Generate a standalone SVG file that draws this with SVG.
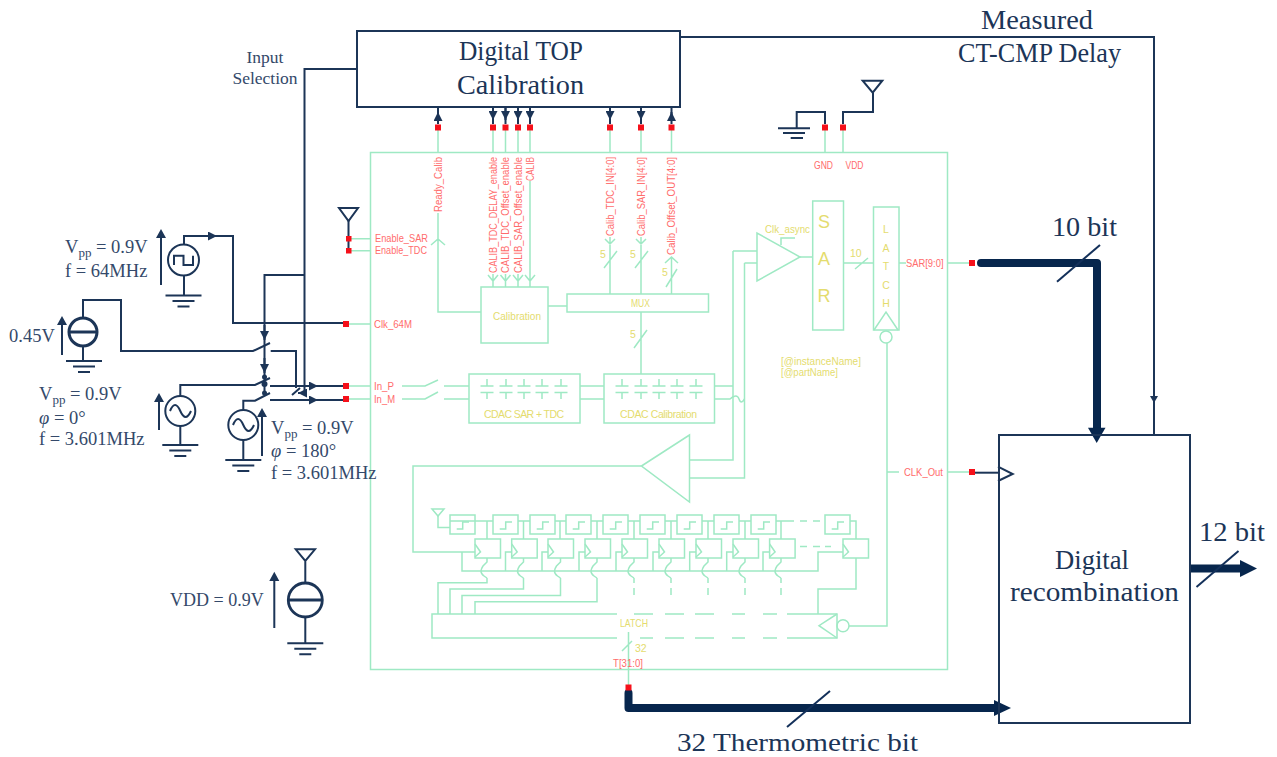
<svg xmlns="http://www.w3.org/2000/svg" width="1277" height="757" viewBox="0 0 1277 757">
<style>
.g{fill:none;stroke:#9fe9c4;stroke-width:1.5}
.n{fill:none;stroke:#1c3557;stroke-width:2}
.s{fill:#f5101a}
.t{fill:none;stroke:#07264d;stroke-width:8;stroke-linecap:round;stroke-linejoin:round}
.l{fill:none;stroke:#13305a;stroke-width:2}
.r{font:10.500px "Liberation Sans",sans-serif;fill:#ff6c6c}
.y{font:10.500px "Liberation Sans",sans-serif;fill:#e4dc6e}
.m{font:18.500px "Liberation Serif",serif;fill:#34496a}
.b{font:26.500px "Liberation Serif",serif;fill:#1c3557}
.h{fill:#1c3557}
.k{fill:#07264d}
</style>
<defs>
<marker id="a" viewBox="0 0 10 10" refX="10" refY="5" markerUnits="userSpaceOnUse" markerWidth="9" markerHeight="9" orient="auto"><path d="M0 0L10 5L0 10Z" fill="#1c3557"/></marker>
<g id="gnd"><path class="n" d="M-18 0H18M-11 5.500H11M-6 11H6"/></g>
<g id="dl"><rect class="g" width="25" height="19"/><path class="g" d="M6.700 14H12.700V7H19"/></g>
<g id="ff"><rect class="g" width="25.500" height="19"/><path class="g" d="M0 5L5.500 13L0 18"/></g>
<g id="cap"><path class="g" d="M0 -7V0M-6.500 0H6.500M-6.500 6.500H6.500M0 6.500V13"/></g>
<path id="w" class="g" d="M0 0V4L-4 8Q-6 11-6 13Q-6 16-3 18L0 20"/>
</defs>

<g id="top-box"><rect x="357" y="31" width="323" height="76" fill="#fff" stroke="#1c3557" stroke-width="2"/>
<text class="b" x="459" y="60" textLength="124" lengthAdjust="spacingAndGlyphs">Digital TOP</text><text class="b" x="457" y="94" textLength="127" lengthAdjust="spacingAndGlyphs">Calibration</text></g>
<g id="chip"><rect class="g" x="370.500" y="152.500" width="577" height="517"/></g>

<g id="connectors">
<path class="g" d="M438 127V152M493 127V152M505.500 127V152M518 127V152M530 127V152M610 127V152M641 127V152M671.500 127V152M825 127V152M843 127V152"/>
<path class="g" d="M438 213V312H481M431 245L438 239L445 245M530 181V287M493 274V287M505.500 274V287M518 274V287M488 275L493 281L498 275M500.500 275L505.500 281L510.500 275M513 275L518 281L523 275M525 275L530 281L535 275"/>
<path class="g" d="M610 237V294M641 237V294M671.500 257V294M605 239L610 244L615 239M636 239L641 244L646 239M665 263L671.500 257L678 263M604 268L617 251M635 268L648 251M666 287L677 269M641 312V374M634 348L647 330M548 306H567"/>
<path class="g" d="M349 238.700H370.500M349 250.700H370.500M346 324H370.500M346 386H370.500M346 399H370.500M947.500 263H972M947.500 472H972M628.500 669.500V687"/>
<path class="g" d="M402 386H425L438 380M444 386H469M402 399H425L438 392M444 399H469M580 386H604M580 399H604M714.500 386H733M714.500 399H730Q737 393 739 399T744.500 399"/>
<path class="g" d="M733 251H757M733 251V460H690M744.500 263H757M744.500 263V478H690M800 257H812.500M843.500 263H873.500M855 269L868 258M781 245V238H795M899 263H906M887 343V626H849M887 472H899"/>
<path class="g" d="M641.500 466H413V552H475M462 552V571H818V552H843M505.500 571V552H511.700M542 571V552H548M579 571V552H585M616 571V552H622M653 571V552H659M689.700 571V552H696M726.700 571V552H733M763 571V552H769.600"/>
<path class="g" d="M475 521H450M438 516V527.500H450M475 521H493M518 521H530M555 521H566M591 521H603M628 521H640M665 521H677M702 521H714M739 521H751M776 521H794M800 521H807M813 521H820M850 521H856V539M487 521V539M523.500 521V539M560 521V539M597 521V539M634 521V539M671 521V539M708 521V539M745 521V539M781 521V539"/>
<path class="g" d="M487 578V582.700H438V614M523.500 578V589H450V614M560.500 578V595.500H462V614M597 578V601.700H475V614M856 558V589H818V614"/>
<path class="g" d="M634 578V583M634 588V595M671 578V583M671 588V595M708 578V583M708 588V595M745 578V583M745 588V595M781 578V583M781 588V595M800 546.500H807M813 546.500H820M825 546.500H831"/>
<path class="g" d="M628.500 632V669.500M622 651L632 641"/>
<path class="n" d="M348.500 220V253M825 124V112H796.700V128M843 124V112H873V93"/>
<path class="n" d="M184 245V236H233V323H346M83 318V300H121V351H253L270 343M270.700 351H296V388M292 395L300 388"/>
<path class="n" d="M180.300 396V385H255L270 378M243.300 410V400.700H255L270 393M270 386H346M270 400H346"/>
<path class="n" d="M357 69H304.500V393M304.500 275H264.500V395"/>
<path class="n" marker-end="url(#a)" d="M205 236H217"/><path class="n" marker-end="url(#a)" d="M300 386H318"/><path class="n" marker-end="url(#a)" d="M300 400H318"/><path class="n" marker-end="url(#a)" d="M264.500 325V340"/><path class="n" marker-end="url(#a)" d="M264.500 358V373"/><path class="n" marker-end="url(#a)" d="M305 393H298"/>
<circle class="h" cx="264.500" cy="377" r="2.500"/><circle class="h" cx="264.500" cy="384" r="3"/><circle class="h" cx="264.500" cy="393" r="2.500"/>
<path class="n" d="M438 107V124M493 107V124M505.500 107V124M518 107V124M530 107V124M610 107V124M641 107V124M671.500 107V124"/>
<path class="n" marker-end="url(#a)" d="M438 120V112"/><path class="n" marker-end="url(#a)" d="M493 108V120"/><path class="n" marker-end="url(#a)" d="M505.500 108V120"/><path class="n" marker-end="url(#a)" d="M518 108V120"/><path class="n" marker-end="url(#a)" d="M530 108V120"/><path class="n" marker-end="url(#a)" d="M610 108V120"/><path class="n" marker-end="url(#a)" d="M641 108V120"/><path class="n" marker-end="url(#a)" d="M671.500 120V112"/>
<path class="n" d="M680 37H1154V435"/><path class="h" d="M1150 396H1158L1154 403Z"/>
<path class="n" d="M975 472.700H999"/>
<path class="t" d="M981 263H1097V430"/><path class="k" d="M1088 427.700H1105.500L1096.700 443Z"/><path class="l" d="M1057 281.700L1100 245"/>
<path class="t" d="M628.500 693V708H996"/><path class="k" d="M994 700L1011 708L994 716Z"/><path class="l" d="M787 727L830 691"/>
<path d="M1190 568.500H1242" fill="none" stroke="#07264d" stroke-width="8"/><path class="k" d="M1240 560L1257 568.500L1240 577Z"/><path class="l" d="M1196.500 587L1238.500 551"/>
<path class="n" d="M161 285V236M62 355V322M159 430V398M262 456V414M274.300 628V578"/>
<path class="h" d="M156 238L161 229L166 238ZM57 325L62 316L67 325ZM154 402L159 393L164 402ZM257 417L262 408L267 417ZM269.300 581L274.300 571.700L279.300 581Z"/>
</g>

<g id="pads"><rect class="s" x="435" y="124.500" width="6" height="6"/><rect class="s" x="490" y="124.500" width="6" height="6"/><rect class="s" x="502.500" y="124.500" width="6" height="6"/><rect class="s" x="515" y="124.500" width="6" height="6"/><rect class="s" x="527" y="124.500" width="6" height="6"/><rect class="s" x="607" y="124.500" width="6" height="6"/><rect class="s" x="638" y="124.500" width="6" height="6"/><rect class="s" x="668.500" y="124.500" width="6" height="6"/><rect class="s" x="822" y="124.500" width="6" height="6"/><rect class="s" x="840" y="124.500" width="6" height="6"/><rect class="s" x="346" y="236" width="5.500" height="5.500"/><rect class="s" x="346" y="248" width="5.500" height="5.500"/><rect class="s" x="343" y="321" width="6" height="6"/><rect class="s" x="343" y="383" width="6" height="6"/><rect class="s" x="343" y="396" width="6" height="6"/><rect class="s" x="969" y="260" width="6" height="6"/><rect class="s" x="969" y="469" width="6" height="6"/><rect class="s" x="625.500" y="684.500" width="6" height="6"/></g>

<g id="labels-red">
<text class="r" transform="translate(441.500,212) rotate(-90)" textLength="55" lengthAdjust="spacingAndGlyphs">Ready_Calib</text>
<text class="r" transform="translate(496.500,273) rotate(-90)" textLength="116" lengthAdjust="spacingAndGlyphs">CALIB_TDC_DELAY_enable</text>
<text class="r" transform="translate(509,273) rotate(-90)" textLength="116" lengthAdjust="spacingAndGlyphs">CALIB_TDC_Offset_enable</text>
<text class="r" transform="translate(521.500,273) rotate(-90)" textLength="116" lengthAdjust="spacingAndGlyphs">CALIB_SAR_Offset_enable</text>
<text class="r" transform="translate(533.500,181) rotate(-90)" textLength="24" lengthAdjust="spacingAndGlyphs">CALIB</text>
<text class="r" transform="translate(613.500,236) rotate(-90)" textLength="79" lengthAdjust="spacingAndGlyphs">Calib_TDC_IN[4:0]</text>
<text class="r" transform="translate(644.500,236) rotate(-90)" textLength="79" lengthAdjust="spacingAndGlyphs">Calib_SAR_IN[4:0]</text>
<text class="r" transform="translate(675,255) rotate(-90)" textLength="98" lengthAdjust="spacingAndGlyphs">Calib_Offset_OUT[4:0]</text>
<text class="r" x="375" y="242" textLength="53" lengthAdjust="spacingAndGlyphs">Enable_SAR</text><text class="r" x="375" y="254" textLength="52" lengthAdjust="spacingAndGlyphs">Enable_TDC</text><text class="r" x="374" y="328" textLength="38" lengthAdjust="spacingAndGlyphs">Clk_64M</text><text class="r" x="374" y="390" textLength="20" lengthAdjust="spacingAndGlyphs">In_P</text><text class="r" x="374" y="403" textLength="21" lengthAdjust="spacingAndGlyphs">In_M</text>
<text class="r" x="814" y="169" textLength="19" lengthAdjust="spacingAndGlyphs">GND</text><text class="r" x="845.500" y="169" textLength="18" lengthAdjust="spacingAndGlyphs">VDD</text><text class="r" x="906" y="267" textLength="37.500" lengthAdjust="spacingAndGlyphs">SAR[9:0]</text><text class="r" x="904" y="476" textLength="39" lengthAdjust="spacingAndGlyphs">CLK_Out</text><text class="r" x="613" y="667" textLength="30" lengthAdjust="spacingAndGlyphs">T[31:0]</text>
</g>

<g id="calibration"><rect class="g" x="481" y="287" width="67" height="56"/><text class="y" x="493" y="319.500" textLength="48" lengthAdjust="spacingAndGlyphs">Calibration</text></g>
<g id="mux"><rect class="g" x="567" y="294" width="141.500" height="18"/><text class="y" x="631" y="307" textLength="19" lengthAdjust="spacingAndGlyphs">MUX</text></g>
<g id="cdac-sar"><rect class="g" x="469" y="374" width="111" height="49"/><use href="#cap" x="487" y="386"/><use href="#cap" x="506" y="386"/><use href="#cap" x="524" y="386"/><use href="#cap" x="542" y="386"/><use href="#cap" x="561" y="386"/><text class="y" x="484" y="417.500" textLength="80" lengthAdjust="spacing">CDAC SAR + TDC</text></g>
<g id="cdac-cal"><rect class="g" x="604" y="374" width="110.500" height="49"/><use href="#cap" x="622" y="386"/><use href="#cap" x="641" y="386"/><use href="#cap" x="659" y="386"/><use href="#cap" x="677" y="386"/><use href="#cap" x="696" y="386"/><text class="y" x="620" y="417.500" textLength="77" lengthAdjust="spacing">CDAC Calibration</text></g>
<g id="comparator"><path class="g" d="M757 233V281L800 257Z"/><text class="y" x="765" y="233" textLength="45" lengthAdjust="spacingAndGlyphs">Clk_async</text></g>
<g id="sar"><rect class="g" x="812.700" y="201" width="30.800" height="129"/><text x="824" y="228" font-family="Liberation Sans,sans-serif" font-size="18" fill="#e4dc6e" text-anchor="middle">S</text><text x="824" y="265" font-family="Liberation Sans,sans-serif" font-size="18" fill="#e4dc6e" text-anchor="middle">A</text><text x="824" y="302" font-family="Liberation Sans,sans-serif" font-size="18" fill="#e4dc6e" text-anchor="middle">R</text></g>
<g id="latch-sar"><rect class="g" x="873.500" y="207" width="25.500" height="123"/><path class="g" d="M874 330L886 312L898 330"/><circle class="g" cx="886" cy="337" r="6"/><text class="y" x="886" y="233" text-anchor="middle">L</text><text class="y" x="886" y="252" text-anchor="middle">A</text><text class="y" x="886" y="270" text-anchor="middle">T</text><text class="y" x="886" y="289" text-anchor="middle">C</text><text class="y" x="886" y="307" text-anchor="middle">H</text></g>
<g id="amp"><path class="g" d="M641.500 466L689.500 435V502Z"/></g>
<g id="yellow-notes"><text class="y" x="600" y="258">5</text><text class="y" x="630" y="258">5</text><text class="y" x="662" y="276">5</text><text class="y" x="630" y="338">5</text><text class="y" x="850" y="257">10</text><text class="y" x="635" y="652">32</text>
<text class="y" x="781" y="365" textLength="80" lengthAdjust="spacingAndGlyphs">[@instanceName]</text><text class="y" x="781" y="376" textLength="57" lengthAdjust="spacingAndGlyphs">[@partName]</text></g>

<g id="delay-line"><use href="#dl" x="450" y="515"/><use href="#dl" x="493" y="515"/><use href="#dl" x="530" y="515"/><use href="#dl" x="566" y="515"/><use href="#dl" x="603" y="515"/><use href="#dl" x="640" y="515"/><use href="#dl" x="677" y="515"/><use href="#dl" x="714" y="515"/><use href="#dl" x="751" y="515"/><use href="#dl" x="825" y="515"/></g>
<g id="flops"><use href="#ff" x="475" y="539"/><use href="#ff" x="511.700" y="539"/><use href="#ff" x="548" y="539"/><use href="#ff" x="585" y="539"/><use href="#ff" x="622" y="539"/><use href="#ff" x="659" y="539"/><use href="#ff" x="696" y="539"/><use href="#ff" x="733" y="539"/><use href="#ff" x="769.600" y="539"/><use href="#ff" x="843" y="539"/>
<use href="#w" x="487" y="558"/><use href="#w" x="523.500" y="558"/><use href="#w" x="560.500" y="558"/><use href="#w" x="597" y="558"/><use href="#w" x="634" y="558"/><use href="#w" x="671" y="558"/><use href="#w" x="708" y="558"/><use href="#w" x="745" y="558"/><use href="#w" x="781" y="558"/></g>
<g id="latch-t"><path class="g" d="M617 614H432V638H617M634 614H653M665 614H684M695 614H714M732 614H745M763 614H777M787 614H837V638H787M777 638H763M745 638H732M714 638H695M684 638H665M653 638H640"/><path class="g" d="M837 614L819 625.700L837 638"/><circle class="g" cx="843" cy="625.700" r="6"/><text class="y" x="634" y="626.500" text-anchor="middle" textLength="28" lengthAdjust="spacingAndGlyphs">LATCH</text></g>
<path class="g" d="M432 509H444L438 516Z"/>

<g id="src-clk"><circle class="n" cx="183.500" cy="260" r="15.500"/><path class="n" d="M174 265V255.700H183.500V265H193V255.700M184 275.500V295.500"/><use href="#gnd" x="183.500" y="295.500"/></g>
<g id="src-dc"><circle cx="83" cy="332" r="14" fill="none" stroke="#1c3557" stroke-width="3"/><path d="M69 332H97" fill="none" stroke="#1c3557" stroke-width="3"/><path class="n" d="M83 346V361"/><use href="#gnd" x="84" y="361"/></g>
<g id="src-sin1"><circle class="n" cx="180.300" cy="411" r="15"/><path class="n" d="M170 411Q175 399 180.300 411T191 411M180.300 426V445"/><use href="#gnd" x="180.300" y="445"/></g>
<g id="src-sin2"><circle class="n" cx="243.300" cy="425" r="15"/><path class="n" d="M233 425Q238 413 243.300 425T254 425M243.300 440V460"/><use href="#gnd" x="243.300" y="460"/></g>
<g id="src-vdd"><circle cx="305.300" cy="600" r="17" fill="none" stroke="#1c3557" stroke-width="2.800"/><path d="M289 600H322" fill="none" stroke="#1c3557" stroke-width="2.800"/><path class="n" d="M295.700 549.300H315L305.300 561ZM305.300 561V583M305.300 617V643"/><use href="#gnd" x="305.300" y="643.300"/></g>
<g id="gnd-top"><path class="n" d="M778 128.300H810M783 133H805M790.700 138H803"/></g>
<path class="n" d="M862.700 80.700H882.300L872.700 92.700Z"/>
<path class="n" d="M339 208H358L348.500 221Z"/>

<g id="digital-recombination"><rect x="999" y="435" width="191" height="288" fill="none" stroke="#1c3557" stroke-width="2"/><path class="n" d="M998 466.700L1012.700 474L998 481"/><text class="b" x="1055" y="569" textLength="74" lengthAdjust="spacingAndGlyphs">Digital</text><text class="b" x="1010" y="601" textLength="169" lengthAdjust="spacingAndGlyphs">recombination</text></g>

<g id="text-navy">
<text class="m" x="265" y="63" text-anchor="middle" style="font-size:17.500px">Input</text><text class="m" x="265" y="84" text-anchor="middle" style="font-size:17.500px">Selection</text>
<text class="m" x="65" y="253">V<tspan font-size="13" dy="4">pp</tspan><tspan dy="-4"> = 0.9V</tspan></text><text class="m" x="65" y="277">f = 64MHz</text>
<text class="m" x="9" y="342">0.45V</text>
<text class="m" x="39" y="400">V<tspan font-size="13" dy="4">pp</tspan><tspan dy="-4"> = 0.9V</tspan></text><text class="m" x="39" y="424"><tspan font-style="italic">φ</tspan> = 0°</text><text class="m" x="39" y="445">f = 3.601MHz</text>
<text class="m" x="271" y="434">V<tspan font-size="13" dy="4">pp</tspan><tspan dy="-4"> = 0.9V</tspan></text><text class="m" x="271" y="457"><tspan font-style="italic">φ</tspan> = 180°</text><text class="m" x="271" y="479">f = 3.601MHz</text>
<text class="m" x="170" y="606" style="font-size:18px">VDD = 0.9V</text>
<text class="b" x="981" y="29" textLength="112" lengthAdjust="spacingAndGlyphs">Measured</text><text class="b" x="958" y="62" textLength="163" lengthAdjust="spacingAndGlyphs">CT-CMP Delay</text>
<text class="b" x="1052" y="236" textLength="65" lengthAdjust="spacingAndGlyphs">10 bit</text><text class="b" x="1199" y="541" textLength="66" lengthAdjust="spacingAndGlyphs">12 bit</text><text class="b" x="677" y="751" style="font-size:25px" textLength="241" lengthAdjust="spacingAndGlyphs">32 Thermometric bit</text>
</g>
</svg>
